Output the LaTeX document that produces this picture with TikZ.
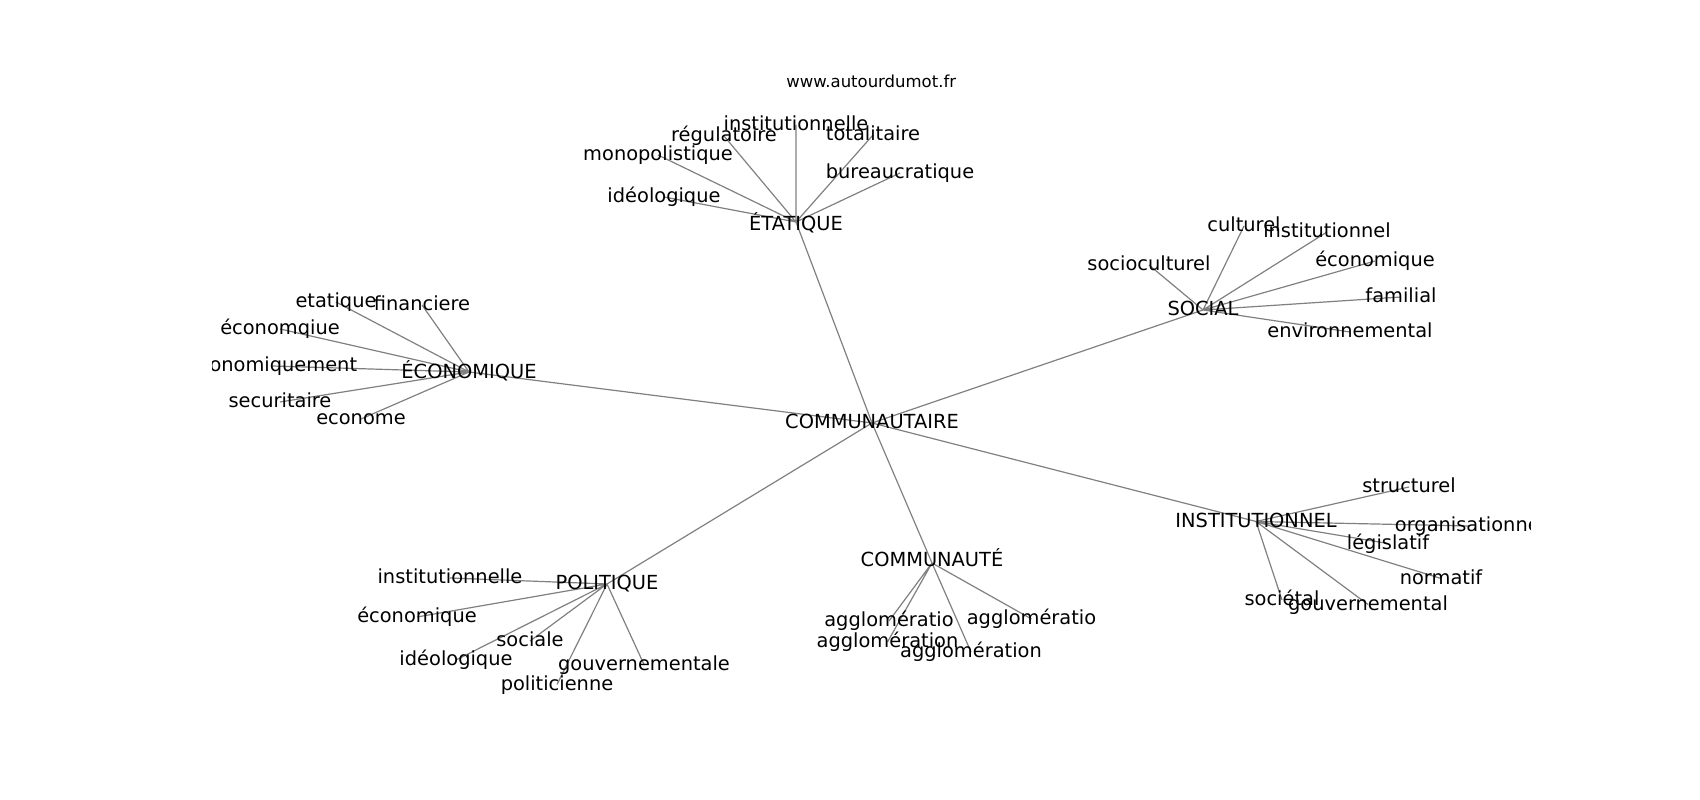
\documentclass[tikz,border=0pt]{standalone}
\usepackage{fontspec}
\setmainfont{DejaVu Sans}
\usepackage{tikz}

\begin{document}
\begin{tikzpicture}[x=1pt, y=1pt,
	word/.style={inner sep=0pt, yshift=-3pt, text height=0.76em, text depth=0.24em, font=\fontsize{19.4}{23}\selectfont},
	edge/.style={black!50, line width=1.2pt}]
	\useasboundingbox (0,0) rectangle (1700,800);
	\node [anchor=base, font=\fontsize{16.5}{20}\selectfont] (site) at (871.25,712.3) {www.autourdumot.fr};
	\begin{scope}
	\clip (212.5,88) rectangle (1530,704);
	% hubs
	\coordinate (C) at (872,377);
	\coordinate (E) at (796,578);
	\coordinate (K) at (469,428);
	\coordinate (S) at (1203,490);
	\coordinate (I) at (1256,278.5);
	\coordinate (U) at (932,237);
	\coordinate (P) at (607,216);
	% leaves
	\coordinate (E1) at (724,664);
	\coordinate (E2) at (796,675);
	\coordinate (E3) at (873,665);
	\coordinate (E4) at (658,645);
	\coordinate (E5) at (900,627);
	\coordinate (E6) at (664,603);
	\coordinate (K1) at (336,498);
	\coordinate (K2) at (422,495);
	\coordinate (K3) at (280,471);
	\coordinate (K4) at (272,434);
	\coordinate (K5) at (280,398);
	\coordinate (K6) at (361,381);
	\coordinate (S1) at (1244,574);
	\coordinate (S2) at (1149,535);
	\coordinate (S3) at (1327,568);
	\coordinate (S4) at (1375,539);
	\coordinate (S5) at (1401,503);
	\coordinate (S6) at (1350,468);
	\coordinate (I1) at (1409,313);
	\coordinate (I2) at (1470,274);
	\coordinate (I3) at (1388,256.5);
	\coordinate (I4) at (1441,221.5);
	\coordinate (I5) at (1282,200);
	\coordinate (I6) at (1368,195.5);
	\coordinate (U1) at (889,179);
	\coordinate (U2) at (887.5,158);
	\coordinate (U3) at (1031.5,181);
	\coordinate (U4) at (971,148);
	\coordinate (P1) at (450,222);
	\coordinate (P2) at (417,183);
	\coordinate (P3) at (530,159);
	\coordinate (P4) at (456,140);
	\coordinate (P5) at (644,135.5);
	\coordinate (P6) at (557,115.5);
	\draw [edge] (C) -- (E) (C) -- (K) (C) -- (S) (C) -- (I) (C) -- (U) (C) -- (P);
	\draw [edge] (E) -- (E1) (E) -- (E2) (E) -- (E3) (E) -- (E4) (E) -- (E5) (E) -- (E6);
	\draw [edge] (K) -- (K1) (K) -- (K2) (K) -- (K3) (K) -- (K4) (K) -- (K5) (K) -- (K6);
	\draw [edge] (S) -- (S1) (S) -- (S2) (S) -- (S3) (S) -- (S4) (S) -- (S5) (S) -- (S6);
	\draw [edge] (I) -- (I1) (I) -- (I2) (I) -- (I3) (I) -- (I4) (I) -- (I5) (I) -- (I6);
	\draw [edge] (U) -- (U1) (U) -- (U2) (U) -- (U3) (U) -- (U4);
	\draw [edge] (P) -- (P1) (P) -- (P2) (P) -- (P3) (P) -- (P4) (P) -- (P5) (P) -- (P6);
	% labels
	\path (C) node [word] {COMMUNAUTAIRE};
	\path (E) node [word, yshift=-3pt] {ÉTATIQUE};
	\path (K) node [word, yshift=-1pt] {ÉCONOMIQUE};
	\path (S) node [word] {SOCIAL};
	\path (I) node [word] {INSTITUTIONNEL};
	\path (U) node [word, yshift=2pt] {COMMUNAUTÉ};
	\path (P) node [word] {POLITIQUE};
	\path (E1) node [word] {régulatoire};
	\path (E2) node [word] {institutionnelle};
	\path (E3) node [word] {totalitaire};
	\path (E4) node [word] {monopolistique};
	\path (E5) node [word] {bureaucratique};
	\path (E6) node [word] {idéologique};
	\path (K1) node [word] {etatique};
	\path (K2) node [word] {financiere};
	\path (K3) node [word] {économqiue};
	\path (K4) node [word] {économiquement};
	\path (K5) node [word] {securitaire};
	\path (K6) node [word] {econome};
	\path (S1) node [word] {culturel};
	\path (S2) node [word] {socioculturel};
	\path (S3) node [word] {institutionnel};
	\path (S4) node [word] {économique};
	\path (S5) node [word] {familial};
	\path (S6) node [word] {environnemental};
	\path (I1) node [word] {structurel};
	\path (I2) node [word] {organisationnel};
	\path (I3) node [word] {législatif};
	\path (I4) node [word] {normatif};
	\path (I5) node [word] {sociétal};
	\path (I6) node [word] {gouvernemental};
	\path (U1) node [word] {agglomératio};
	\path (U2) node [word] {agglomération};
	\path (U3) node [word] {agglomératio};
	\path (U4) node [word] {agglomération};
	\path (P1) node [word] {institutionnelle};
	\path (P2) node [word] {économique};
	\path (P3) node [word] {sociale};
	\path (P4) node [word] {idéologique};
	\path (P5) node [word] {gouvernementale};
	\path (P6) node [word] {politicienne};
	\end{scope}
\end{tikzpicture}
\end{document}
